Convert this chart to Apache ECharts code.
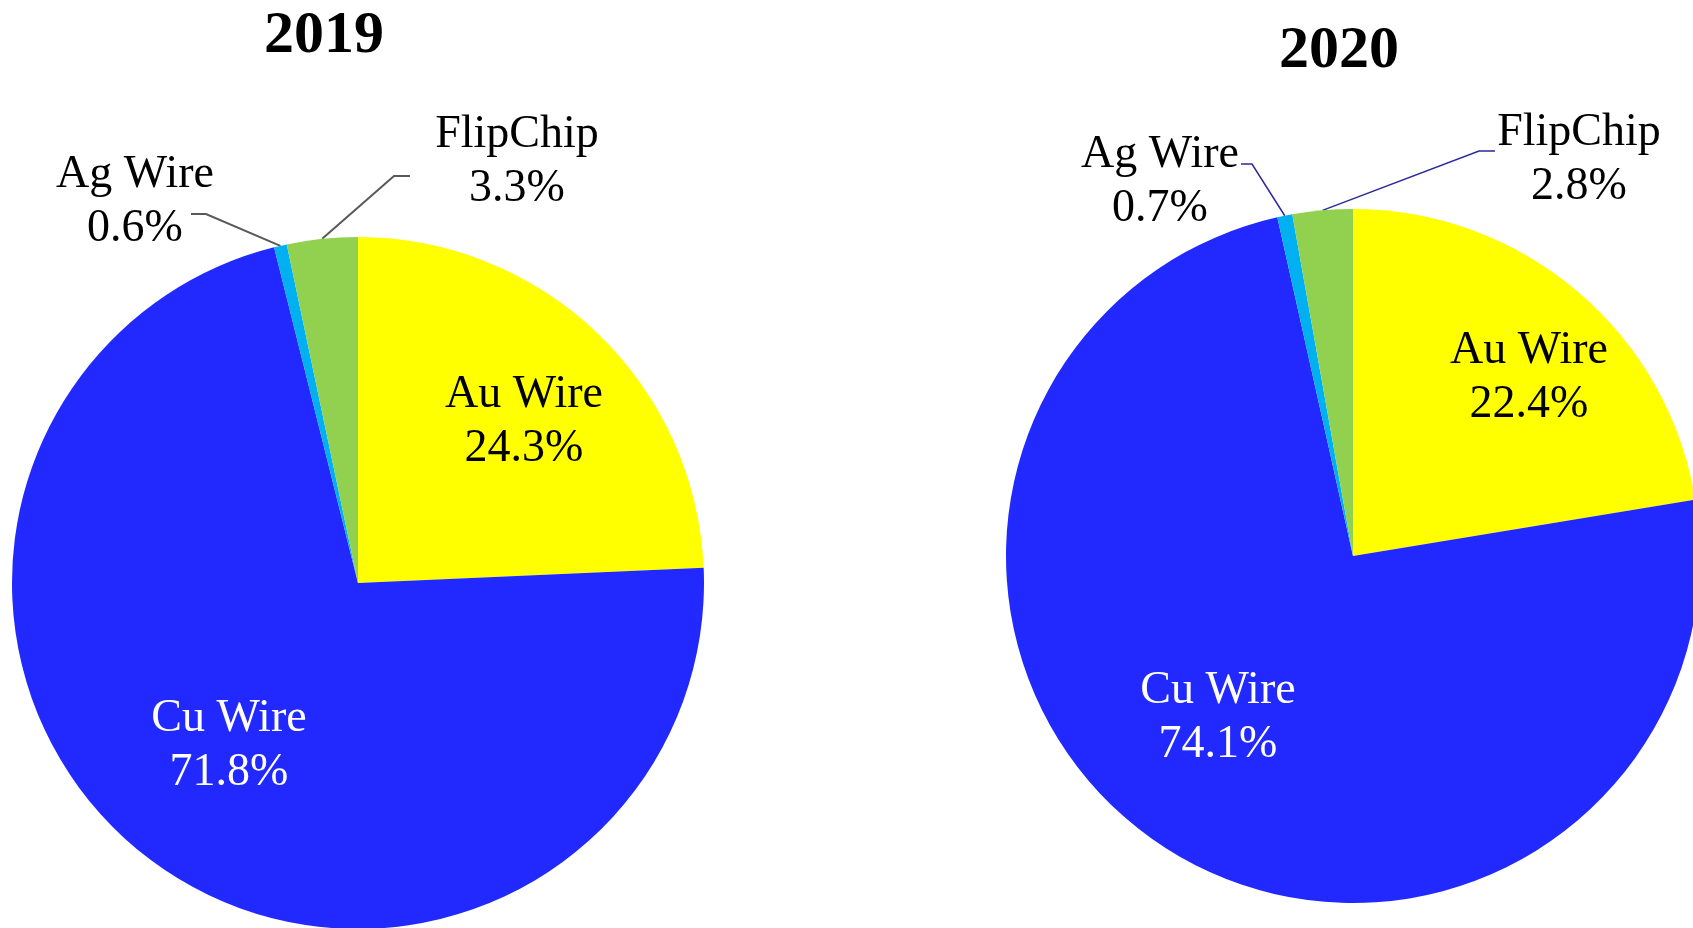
<!DOCTYPE html>
<html>
<head>
<meta charset="utf-8">
<script src="https://cdn.jsdelivr.net/npm/echarts@6/dist/echarts.min.js"></script>
<style>
  html, body { margin: 0; padding: 0; background: #fff; }
  #chart { width: 1693px; height: 928px; }
</style>
</head>
<body>
<div id="chart"></div>
<script>
// data
const categories = ["Au Wire", "Cu Wire", "Ag Wire", "FlipChip"]
const years = ["2019", "2020"]
const share2019 = [24.3, 71.8, 0.6, 3.3]
const share2020 = [22.4, 74.1, 0.7, 2.8]

const colors = ["#ffff00", "#2129ff", "#00b0f0", "#92d050"]
const fontFamily = "'Times New Roman', 'Liberation Serif', serif"

// layout of each pie: center, radius, label centres, leader line bends
const pies = [
  {
    center: [358, 583],
    radius: 346,
    lineColor: "#595959",
    lineWidth: 2,
    labels: [[524, 422], [229, 746], [135, 202], [517, 162]],
    lines: { 2: [[206, 214], [191, 214]], 3: [[394, 176], [410, 176]] }
  },
  {
    center: [1353, 556],
    radius: 347,
    lineColor: "#2a2a9c",
    lineWidth: 1.5,
    labels: [[1529, 378], [1218, 718], [1160, 182], [1579, 160]],
    lines: { 2: [[1252, 164], [1241, 164]], 3: [[1479, 151], [1495, 151]] }
  }
]

const chart = echarts.init(document.getElementById("chart"))

const makeSeries = (values, idx) => {
  const p = pies[idx]
  const total = values.reduce((a, b) => a + b, 0)
  return {
    type: "pie",
    center: p.center,
    radius: p.radius,
    startAngle: 90,
    clockwise: true,
    silent: true,
    animation: false,
    label: {
      show: true,
      position: "outside",
      formatter: "{b}\n{c}%",
      fontFamily: fontFamily,
      fontSize: 46,
      lineHeight: 54,
      color: "#000",
      align: "center",
      overflow: "none",
      width: 300
    },
    labelLine: {
      show: true,
      lineStyle: { color: p.lineColor, width: p.lineWidth }
    },
    labelLayout: (params) => {
      const i = params.dataIndex
      const pos = p.labels[i]
      const out = { x: pos[0], y: pos[1], align: "center", verticalAlign: "middle" }
      if (p.lines[i]) {
        // edge point at the middle angle of the slice
        let before = 0
        for (let k = 0; k < i; k++) before += values[k]
        const mid = ((before + values[i] / 2) / total) * Math.PI * 2
        const edge = [p.center[0] + p.radius * Math.sin(mid), p.center[1] - p.radius * Math.cos(mid)]
        out.labelLinePoints = [edge, p.lines[i][0], p.lines[i][1]]
      }
      return out
    },
    data: categories.map((name, i) => ({
      name: name,
      value: values[i],
      itemStyle: { color: colors[i], borderWidth: 0 },
      label: i < 2 ? { position: "inside", color: i === 1 ? "#fff" : "#000" } : {},
      labelLine: { show: i >= 2 }
    }))
  }
}

const option = {
  backgroundColor: "#fff",
  title: [
    {
      text: years[0],
      left: 324,
      top: 6,
      padding: 0,
      textAlign: "center",
      textStyle: { fontFamily: fontFamily, fontSize: 60, fontWeight: "bold", color: "#000" }
    },
    {
      text: years[1],
      left: 1339,
      top: 21,
      padding: 0,
      textAlign: "center",
      textStyle: { fontFamily: fontFamily, fontSize: 60, fontWeight: "bold", color: "#000" }
    }
  ],
  series: [makeSeries(share2019, 0), makeSeries(share2020, 1)]
}

chart.setOption(option)
</script>
</body>
</html>
